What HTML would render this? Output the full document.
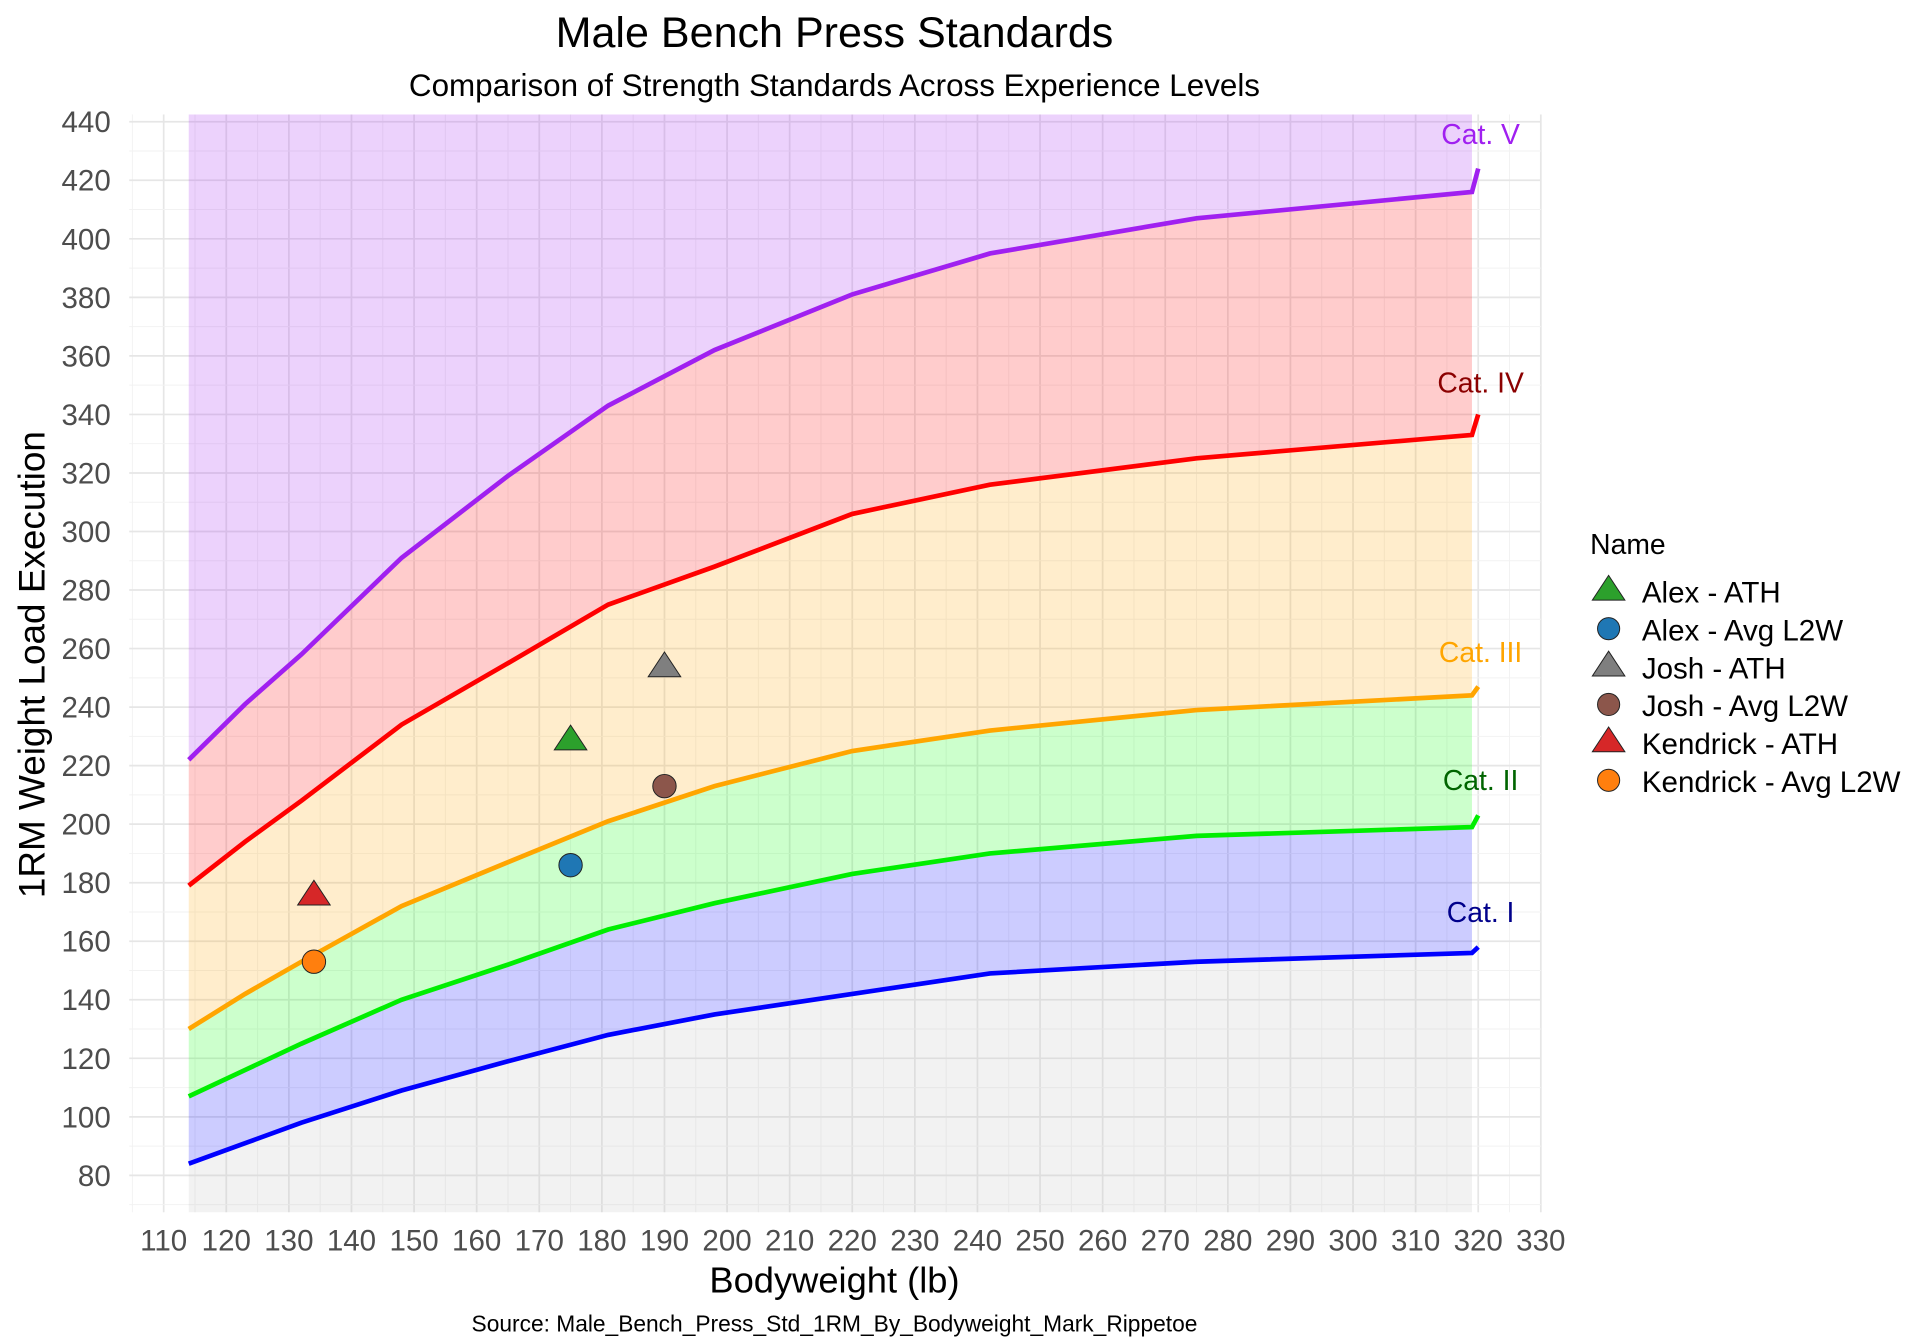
<!DOCTYPE html>
<html><head><meta charset="utf-8"><style>
html,body{margin:0;padding:0;background:#fff}
svg{display:block}
text{font-family:"Liberation Sans",sans-serif}
</style></head><body>
<svg id="c" width="1920" height="1344" viewBox="0 0 1560 1092" xmlns="http://www.w3.org/2000/svg"></svg>
<script>
const S=document.getElementById('c');
const X=v=>133+(v-110)*5.086, Y=v=>955-(v-80)*2.378;
let h='';
const L=105,R=1252,T=93,B=985;
for(let v=105;v<=330;v+=5){const maj=v%10==0;h+=`<line x1="${X(v)}" x2="${X(v)}" y1="${T}" y2="${B}" stroke="${maj?'#e6e6e6':'#f2f2f2'}" stroke-width="${maj?1.4:0.8}"/>`;}
for(let v=70;v<=440;v+=10){const maj=v%20==0;h+=`<line x1="${L}" x2="${R}" y1="${Y(v)}" y2="${Y(v)}" stroke="${maj?'#e6e6e6':'#f2f2f2'}" stroke-width="${maj?1.4:0.8}"/>`;}
const bw=[114,123,132,148,165,181,198,220,242,275,319];
const d={
I:[84,91,98,109,119,128,135,142,149,153,156,158],
II:[107,116,125,140,152,164,173,183,190,196,199,203],
III:[130,142,153,172,187,201,213,225,232,239,244,247],
IV:[179,194,208,234,255,275,288,306,316,325,333,340],
V:[222,241,258,291,319,343,362,381,395,407,416,424]};
const pts=a=>bw.map((b,i)=>`${X(b)},${Y(a[i])}`);
const band=(lo,hi,fill)=>{let top=hi?pts(hi):bw.map(b=>`${X(b)},${T}`);let bot=lo?pts(lo):bw.map(b=>`${X(b)},${B}`);h+=`<polygon points="${top.join(' ')} ${bot.reverse().join(' ')}" fill="${fill}"/>`;};
band(null,d.I,'rgba(190,190,190,0.2)');
band(d.I,d.II,'rgba(0,0,255,0.2)');
band(d.II,d.III,'rgba(0,255,0,0.2)');
band(d.III,d.IV,'rgba(255,165,0,0.2)');
band(d.IV,d.V,'rgba(255,0,0,0.2)');
band(d.V,null,'rgba(160,32,240,0.2)');
const col={I:'#0000ff',II:'#00ee00',III:'#ffa500',IV:'#ff0000',V:'#a020f0'};
for(const k in d){const p=pts(d[k]);p.push(`${X(320)},${Y(d[k][11])}`);h+=`<polyline points="${p.join(' ')}" fill="none" stroke="${col[k]}" stroke-width="3.8"/>`;}
const lab=[['Cat. V',109,'#a020f0'],['Cat. IV',311,'#8b0000'],['Cat. III',530,'#ffa500'],['Cat. II',634,'#006400'],['Cat. I',741,'#00008b']];
lab.forEach(l=>h+=`<text x="1203" y="${l[1]+8}" font-size="23" fill="${l[2]}" text-anchor="middle">${l[0]}</text>`);
const tri=(x,y,c,s=11.5)=>`<polygon points="${x},${y-s} ${x-s*1.15},${y+s*0.75} ${x+s*1.15},${y+s*0.75}" fill="${c}" stroke="#222" stroke-width="0.8"/>`;
const cir=(x,y,c,r=9.5)=>`<circle cx="${x}" cy="${y}" r="${r}" fill="${c}" stroke="#222" stroke-width="0.8"/>`;
h+=tri(X(175),Y(229),'#2ca02c')+cir(X(175),Y(186),'#1f77b4')+tri(X(190),Y(254),'#7f7f7f')+cir(X(190),Y(213),'#8c564b')+tri(X(134),Y(176),'#d62728')+cir(X(134),Y(153),'#ff7f0e');
for(let v=80;v<=440;v+=20)h+=`<text x="90" y="${Y(v)+8.5}" font-size="24" fill="#4d4d4d" text-anchor="end">${v}</text>`;
for(let v=110;v<=330;v+=10)h+=`<text x="${X(v)}" y="1016" font-size="24" fill="#4d4d4d" text-anchor="middle">${v}</text>`;
h+=`<text x="678" y="38" font-size="35" text-anchor="middle" fill="#000">Male Bench Press Standards</text>`;
h+=`<text x="678" y="78" font-size="25.5" text-anchor="middle" fill="#000">Comparison of Strength Standards Across Experience Levels</text>`;
h+=`<text x="678" y="1050" font-size="29.5" text-anchor="middle" fill="#000">Bodyweight (lb)</text>`;
h+=`<text transform="translate(36,540) rotate(-90)" font-size="30" text-anchor="middle" fill="#000">1RM Weight Load Execution</text>`;
h+=`<text x="678" y="1082" font-size="18.5" text-anchor="middle" fill="#000">Source: Male_Bench_Press_Std_1RM_By_Bodyweight_Mark_Rippetoe</text>`;
h+=`<text x="1292" y="450" font-size="23" fill="#000">Name</text>`;
const leg=[['Alex - ATH','#2ca02c',1],['Alex - Avg L2W','#1f77b4',0],['Josh - ATH','#7f7f7f',1],['Josh - Avg L2W','#8c564b',0],['Kendrick - ATH','#d62728',1],['Kendrick - Avg L2W','#ff7f0e',0]];
leg.forEach((l,i)=>{const y=481+i*30.8;h+=l[2]?tri(1307,y-2,l[1],11.5):cir(1307,y-1,l[1],9);h+=`<text x="1334" y="${y+8.5}" font-size="24" fill="#000">${l[0]}</text>`;});
S.innerHTML=h;
</script>
</body></html>
